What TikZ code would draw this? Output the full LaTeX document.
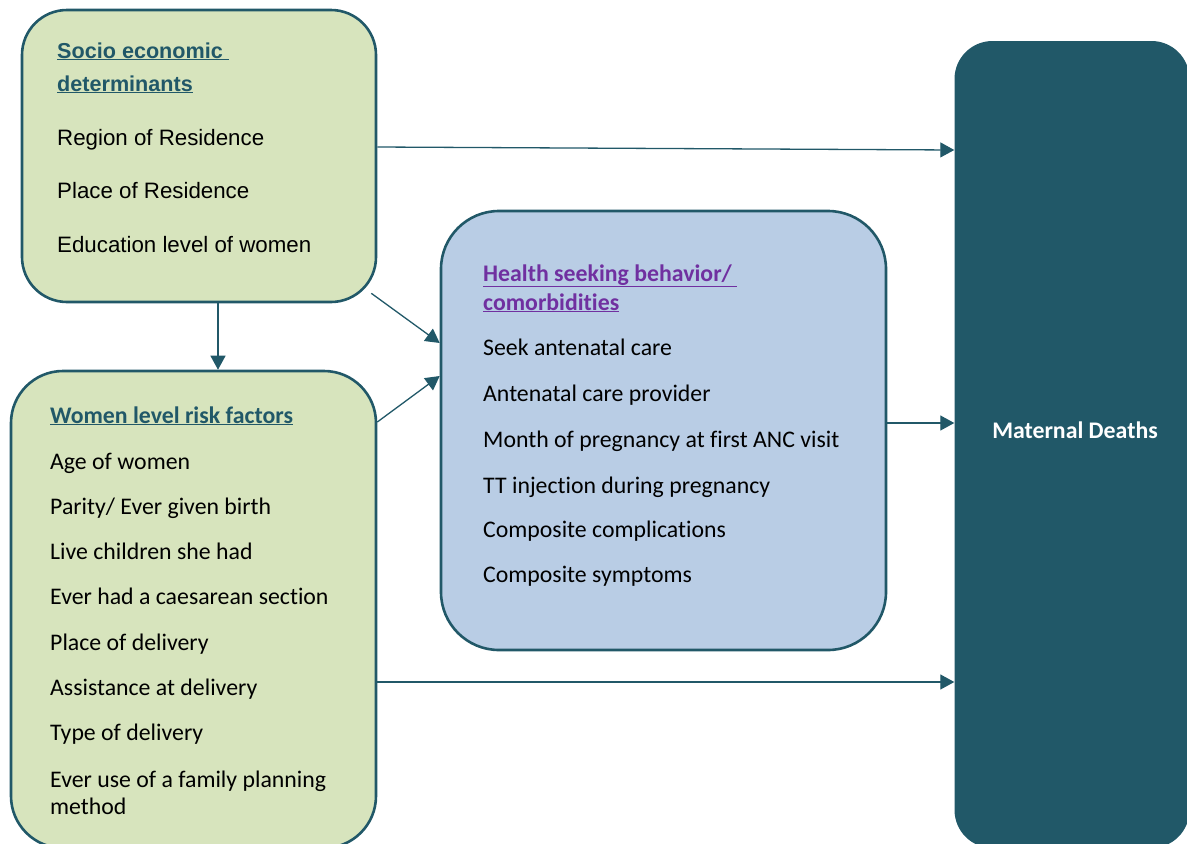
\documentclass[tikz,border=0pt]{standalone}
\usepackage{fontspec}
\setmainfont{Carlito}[Ligatures=NoCommon]
\newfontfamily\franklin{Liberation Sans}
\usetikzlibrary{arrows.meta}
\definecolor{darkteal}{HTML}{215868}
\definecolor{boxgreen}{HTML}{D7E4BD}
\definecolor{boxblue}{HTML}{B9CDE5}
\definecolor{hpurple}{HTML}{7030A0}
\begin{document}
\begin{tikzpicture}[x=1pt,y=-1pt,
  box/.style={draw=darkteal, line width=2.6pt, rounded corners=#1, inner sep=0pt},
  box/.default=45pt,
  sitem/.style={anchor=base west, inner sep=0pt, font=\franklin\fontsize{22.3}{26}\selectfont},
  stitle/.style={anchor=base west, inner sep=0pt, text=darkteal, font=\franklin\bfseries\fontsize{21.6}{26}\selectfont},
  citem/.style={anchor=base west, inner sep=0pt, font=\fontsize{23.8}{28}\selectfont},
  ctitle/.style={citem, font=\bfseries\fontsize{23.8}{28}\selectfont},
  arr/.style={draw=darkteal, line width=1.3pt, -{Triangle[length=14pt,width=15pt]}}
]
\useasboundingbox (0,0) rectangle (1187,844);
\begin{scope}
\clip (0,0) rectangle (1187,844);
% boxes
\node[box=45pt, fill=boxgreen, minimum width=354pt, minimum height=292pt] (socio) at (199,156) {};
\node[box=52pt, fill=boxgreen, minimum width=365pt, minimum height=477pt] (women) at (193.5,609.5) {};
\node[box=58pt, fill=boxblue, minimum width=445pt, minimum height=439pt] (health) at (663.5,430.5) {};
\node[fill=darkteal, draw=none, rounded corners=38pt, inner sep=0pt, minimum width=235pt, minimum height=807pt] (mat) at (1072,444.5) {};
\end{scope}
% socio texts
\node[stitle] (st1) at (57,58) {\underline{Socio economic\ }};
\node[stitle] (st2) at (57,91) {\underline{determinants}};
\node[sitem] (s1) at (57,145) {Region of Residence};
\node[sitem] (s2) at (57,198) {Place of Residence};
\node[sitem] (s3) at (57,252) {Education level of women};
% women texts
\node[ctitle, text=darkteal] (wt) at (50,423) {\underline{Women level risk factors}};
\node[citem] (w1) at (50,469) {Age of women};
\node[citem] (w2) at (50,514) {Parity/ Ever given birth};
\node[citem] (w3) at (50,559) {Live children she had};
\node[citem] (w4) at (50,604) {Ever had a caesarean section};
\node[citem] (w5) at (50,650) {Place of delivery};
\node[citem] (w6) at (50,695) {Assistance at delivery};
\node[citem] (w7) at (50,740) {Type of delivery};
\node[citem] (w8) at (50,787) {Ever use of a family planning};
\node[citem] (w9) at (50,814) {method};
% health texts
\node[ctitle, text=hpurple] (ht1) at (483,281) {\underline{Health seeking behavior/\ }};
\node[ctitle, text=hpurple] (ht2) at (483,310) {\underline{comorbidities}};
\node[citem] (h1) at (483,355) {Seek antenatal care};
\node[citem] (h2) at (483,401) {Antenatal care provider};
\node[citem] (h3) at (483,447) {Month of pregnancy at first ANC visit};
\node[citem] (h4) at (483,493) {TT injection during pregnancy};
\node[citem] (h5) at (483,537) {Composite complications};
\node[citem] (h6) at (483,582) {Composite symptoms};
% maternal text
\node[inner sep=0pt, text=white, font=\bfseries\fontsize{23.8}{28}\selectfont] (mt) at (1075,430) {Maternal Deaths};
% arrows
\draw[arr] (socio.east |- 0,147) -- (mat.west |- 0,150);
\draw[arr] (socio.south -| 218,0) -- (women.north -| 218,0);
\draw[arr] ([shift={(-6pt,10pt)}]socio.south east) -- (health.west |- 0,343);
\draw[arr] (women.east |- 0,422) -- (health.west |- 0,376);
\draw[arr] (health.east |- 0,423) -- (mat.west |- 0,423);
\draw[arr] (women.east |- 0,682) -- (mat.west |- 0,682);
\end{tikzpicture}
\end{document}
